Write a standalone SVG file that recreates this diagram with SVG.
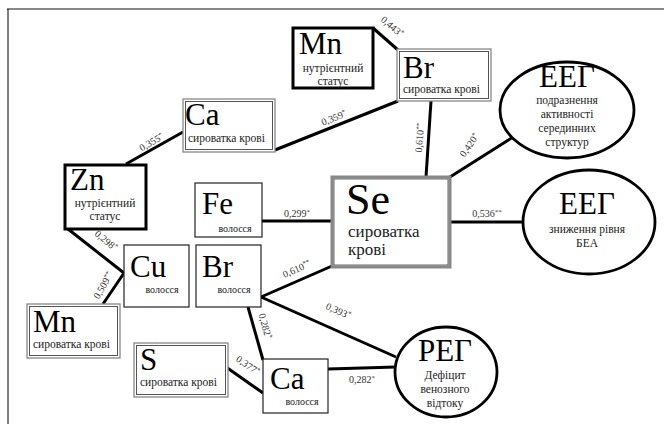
<svg xmlns="http://www.w3.org/2000/svg" width="664" height="424" viewBox="0 0 664 424">
<style>
.frame{stroke:#888;stroke-width:2;fill:none}
.thick{fill:#fff;stroke:#000;stroke-width:3}
.thin{fill:#fff;stroke:#222;stroke-width:1.2}
.dblo{fill:#fff;stroke:#888;stroke-width:1.3}
.dbli{fill:none;stroke:#555;stroke-width:1}
.ell{fill:#fff;stroke:#000;stroke-width:2.8}
.edge{stroke:#000;stroke-width:3;fill:none}
text{font-family:'Liberation Serif','Liberation Sans',serif}
.sym{font-size:31px;fill:#000}
.sub{font-size:11.5px;fill:#222}
.lab{font-size:10px;fill:#333}
.st{font-size:7px}
.hair{font-size:10px}
</style>
<line x1="7" y1="9" x2="664" y2="9" class="frame"/>
<line x1="8" y1="9" x2="8" y2="424" stroke="#000" stroke-width="1"/>
<g id="connectors">
<line class="edge" x1="373" y1="28" x2="398" y2="50"/>
<line class="edge" x1="275" y1="150" x2="398" y2="101"/>
<line class="edge" x1="126" y1="164" x2="183" y2="132"/>
<line class="edge" x1="262" y1="221" x2="332" y2="221"/>
<line class="edge" x1="431" y1="101" x2="426" y2="177"/>
<line class="edge" x1="450" y1="177" x2="513" y2="137"/>
<line class="edge" x1="450" y1="222" x2="523" y2="222"/>
<line class="edge" x1="261" y1="297" x2="332" y2="266"/>
<line class="edge" x1="261" y1="297" x2="396" y2="357"/>
<line class="edge" x1="248" y1="307" x2="263" y2="360"/>
<line class="edge" x1="226" y1="367" x2="263" y2="393"/>
<line class="edge" x1="328" y1="369" x2="396" y2="367"/>
<line class="edge" x1="68" y1="229" x2="124" y2="273"/>
<line class="edge" x1="124" y1="273" x2="103" y2="304"/>
<text class="lab" transform="translate(390 29) rotate(41)" text-anchor="middle">0,443<tspan class="st" dy="-3">*</tspan></text>
<text class="lab" transform="translate(335 121) rotate(-22)" text-anchor="middle">0,359<tspan class="st" dy="-3">*</tspan></text>
<text class="lab" transform="translate(153 145) rotate(-30)" text-anchor="middle">0,355<tspan class="st" dy="-3">*</tspan></text>
<text class="lab" x="297" y="217" text-anchor="middle">0,299<tspan class="st" dy="-3">*</tspan></text>
<text class="lab" transform="translate(423 138) rotate(-85)" text-anchor="middle">0,610<tspan class="st" dy="-3">**</tspan></text>
<text class="lab" transform="translate(472 147) rotate(-55)" text-anchor="middle">0,420<tspan class="st" dy="-3">*</tspan></text>
<text class="lab" x="487" y="217" text-anchor="middle">0,536<tspan class="st" dy="-3">**</tspan></text>
<text class="lab" transform="translate(298 272) rotate(-24)" text-anchor="middle">0,610<tspan class="st" dy="-3">**</tspan></text>
<text class="lab" transform="translate(337 314) rotate(24)" text-anchor="middle">0,393<tspan class="st" dy="-3">*</tspan></text>
<text class="lab" transform="translate(262 327) rotate(74)" text-anchor="middle">0,282<tspan class="st" dy="-3">*</tspan></text>
<text class="lab" transform="translate(246 368) rotate(35)" text-anchor="middle">0,377<tspan class="st" dy="-3">*</tspan></text>
<text class="lab" x="362" y="383" text-anchor="middle">0,282<tspan class="st" dy="-3">*</tspan></text>
<text class="lab" transform="translate(104 243) rotate(40)" text-anchor="middle">0,298<tspan class="st" dy="-3">*</tspan></text>
<text class="lab" transform="translate(106 287) rotate(-60)" text-anchor="middle">0,509<tspan class="st" dy="-3">**</tspan></text>
</g>
<g id="mn-nutrient">
<rect class="thick" x="293" y="28" width="80" height="60"/>
<text class="sym" x="299" y="54">Mn</text>
<text class="sub" x="333" y="72" text-anchor="middle">нутрієнтний</text>
<text class="sub" x="333" y="85" text-anchor="middle">статус</text>
</g>
<g id="br-serum">
<rect class="dblo" x="397" y="49" width="94" height="52"/>
<rect class="dbli" x="399.5" y="51.5" width="89" height="47"/>
<text class="sym" x="403" y="78">Br</text>
<text class="sub" x="403" y="93">сироватка крові</text>
</g>
<g id="ca-serum">
<rect class="dblo" x="183" y="99" width="92" height="53"/>
<rect class="dbli" x="185.5" y="101.5" width="87" height="48"/>
<text class="sym" x="185" y="125">Ca</text>
<text class="sub" x="188" y="142">сироватка крові</text>
</g>
<g id="zn-nutrient">
<rect class="thick" x="65" y="165" width="81" height="64"/>
<text class="sym" x="70" y="190">Zn</text>
<text class="sub" x="105" y="207" text-anchor="middle">нутрієнтний</text>
<text class="sub" x="105" y="220" text-anchor="middle">статус</text>
</g>
<g id="fe-hair">
<rect class="thin" x="195" y="183" width="67" height="54"/>
<text class="sym" x="202" y="214">Fe</text>
<text class="sub hair" x="235" y="232" text-anchor="middle">волосся</text>
</g>
<g id="se-serum">
<rect x="332" y="177" width="118" height="90" fill="#fff" stroke="#888" stroke-width="3"/>
<rect x="334" y="179" width="114" height="86" fill="none" stroke="#444" stroke-width="0.8"/>
<text class="sym" x="346" y="214" style="font-size:44px">Se</text>
<text class="sub" x="348" y="237" style="font-size:17px">сироватка</text>
<text class="sub" x="348" y="255" style="font-size:17px">крові</text>
</g>
<g id="eeg-irritation">
<ellipse class="ell" cx="567" cy="110" rx="67" ry="48"/>
<text class="sym" x="567" y="87" text-anchor="middle">ЕЕГ</text>
<text class="sub" x="567" y="104" text-anchor="middle">подразнення</text>
<text class="sub" x="567" y="118" text-anchor="middle">активності</text>
<text class="sub" x="567" y="132" text-anchor="middle">серединних</text>
<text class="sub" x="567" y="146" text-anchor="middle">структур</text>
</g>
<g id="eeg-bea">
<ellipse class="ell" cx="589" cy="222" rx="66" ry="52"/>
<text class="sym" x="587" y="214" text-anchor="middle">ЕЕГ</text>
<text class="sub" x="587" y="233" text-anchor="middle">зниження рівня</text>
<text class="sub" x="587" y="247" text-anchor="middle">БЕА</text>
</g>
<g id="cu-hair">
<rect class="thin" x="124" y="245" width="65" height="62"/>
<text class="sym" x="130" y="277">Cu</text>
<text class="sub hair" x="162" y="293" text-anchor="middle">волосся</text>
</g>
<g id="br-hair">
<rect class="thin" x="196" y="245" width="65" height="62"/>
<text class="sym" x="202" y="277">Br</text>
<text class="sub hair" x="234" y="293" text-anchor="middle">волосся</text>
</g>
<g id="mn-serum">
<rect class="dblo" x="27" y="304" width="93" height="54"/>
<rect class="dbli" x="29.5" y="306.5" width="88" height="49"/>
<text class="sym" x="33" y="332">Mn</text>
<text class="sub" x="33" y="348">сироватка крові</text>
</g>
<g id="s-serum">
<rect class="dblo" x="134" y="343" width="94" height="54"/>
<rect class="dbli" x="136.5" y="345.5" width="89" height="49"/>
<text class="sym" x="140" y="370">S</text>
<text class="sub" x="140" y="386">сироватка крові</text>
</g>
<g id="ca-hair">
<rect class="thin" x="263" y="359" width="65" height="54"/>
<text class="sym" x="270" y="389">Ca</text>
<text class="sub hair" x="302" y="405" text-anchor="middle">волосся</text>
</g>
<g id="reg">
<ellipse class="ell" cx="446" cy="372" rx="51" ry="45"/>
<text class="sym" x="445" y="361" text-anchor="middle">РЕГ</text>
<text class="sub" x="445" y="379" text-anchor="middle">Дефіцит</text>
<text class="sub" x="445" y="393" text-anchor="middle">венозного</text>
<text class="sub" x="445" y="407" text-anchor="middle">відтоку</text>
</g>
</svg>
